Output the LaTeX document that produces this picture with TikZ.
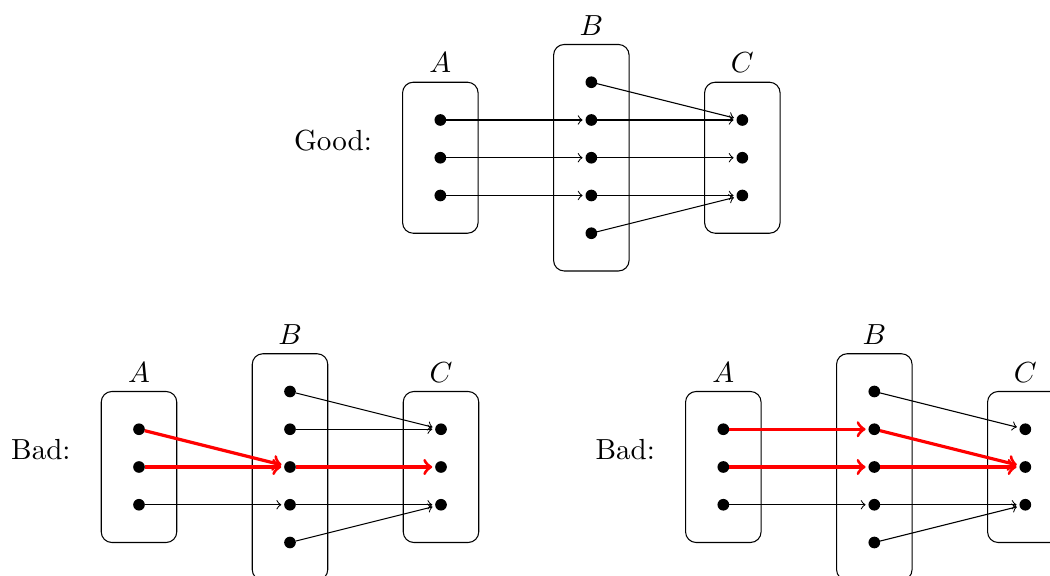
\documentclass[tikz,border=0pt]{standalone}
\usetikzlibrary{arrows}

\tikzset{
  dot/.style={circle, fill=black, inner sep=0pt, outer sep=0pt, minimum size=4.4pt},
  setbox/.style={draw, rounded corners=4pt, minimum width=1cm, inner sep=0pt, outer sep=0pt},
  map/.style={->, shorten >=1.1pt},
  badmap/.style={map, red, very thick},
  % three sets A, B, C with their elements and a caption on the left
  pics/panel/.style={code={
    \node[setbox, minimum height=2cm, label={above:$A$}] (-A) at (0,0) {};
    \node[setbox, minimum height=3cm, label={above:$B$}] (-B) at (2,0) {};
    \node[setbox, minimum height=2cm, label={above:$C$}] (-C) at (4,0) {};
    \foreach \i/\y in {1/0.5,2/0,3/-0.5} {
      \node[dot] (-a\i) at (0,\y) {};
      \node[dot] (-c\i) at (4,\y) {};
    }
    \foreach \i/\y in {1/1,2/0.5,3/0,4/-0.5,5/-1}
      \node[dot] (-b\i) at (2,\y) {};
    \node[anchor=base east, inner sep=0pt] (-caption) at (-0.9,0.1) {#1};
  }}
}

\begin{document}
\begin{tikzpicture}[font=\fontsize{10.95}{13.6}\selectfont]
\useasboundingbox (0,0) rectangle (13.907,-7.616);

\pic (g) at (5.832,-2.089) {panel={Good:}};
\pic (l) at (1.841,-6.185) {panel={Bad:}};
\pic (r) at (9.580,-6.185) {panel={Bad:}};

% good composition
\draw[map] (g-a1) -- (g-b2);
\draw[map] (g-a2) -- (g-b3);
\draw[map] (g-a3) -- (g-b4);
\draw[map] (g-b1) -- (g-c1);
\draw[map] (g-b2) -- (g-c1);
\draw[map] (g-b3) -- (g-c2);
\draw[map] (g-b4) -- (g-c3);
\draw[map] (g-b5) -- (g-c3);

% first bad composition
\draw[badmap] (l-a1) -- (l-b3);
\draw[badmap] (l-a2) -- (l-b3);
\draw[map] (l-a3) -- (l-b4);
\draw[map] (l-b1) -- (l-c1);
\draw[map] (l-b2) -- (l-c1);
\draw[badmap] (l-b3) -- (l-c2);
\draw[map] (l-b4) -- (l-c3);
\draw[map] (l-b5) -- (l-c3);

% second bad composition
\draw[badmap] (r-a1) -- (r-b2);
\draw[badmap] (r-a2) -- (r-b3);
\draw[map] (r-a3) -- (r-b4);
\draw[map] (r-b1) -- (r-c1);
\draw[badmap] (r-b2) -- (r-c2);
\draw[badmap] (r-b3) -- (r-c2);
\draw[map] (r-b4) -- (r-c3);
\draw[map] (r-b5) -- (r-c3);
\end{tikzpicture}
\end{document}
